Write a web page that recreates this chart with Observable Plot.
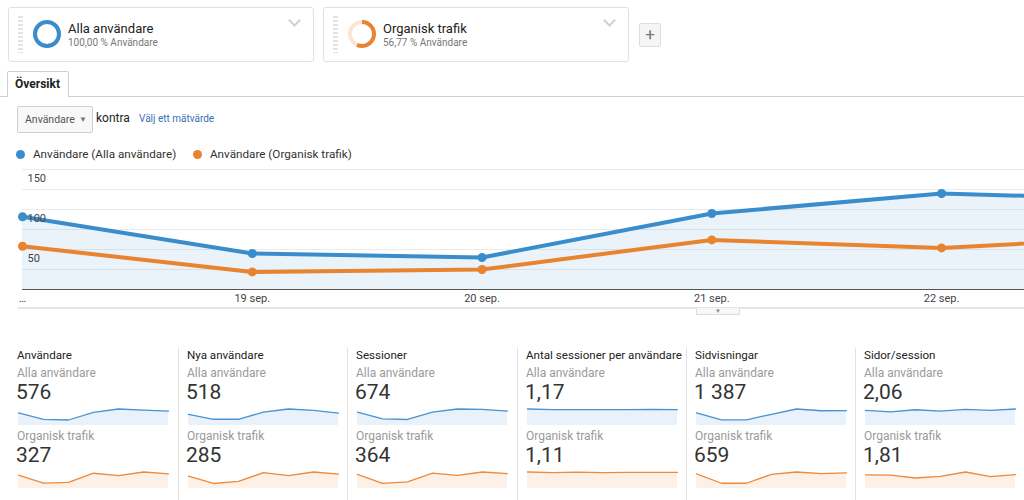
<!DOCTYPE html>
<html><head><meta charset="utf-8">
<script src="https://cdn.jsdelivr.net/npm/d3@7"></script>
<script src="https://cdn.jsdelivr.net/npm/@observablehq/plot@0.6"></script>
<style>
body{margin:0;width:1024px;height:500px;overflow:hidden;background:#fff;font-family:Roboto,"Open Sans",sans-serif;position:relative;color:#222}
.a{position:absolute;white-space:nowrap}
.card{position:absolute;top:7px;height:55px;width:306px;border:1px solid #e0e0e0;border-radius:3px;box-sizing:border-box;background:#fff}
.grip{position:absolute;left:9px;top:8px;width:5px;height:37px;background:repeating-linear-gradient(#e3e3e3 0 2px,transparent 2px 4px)}
.chev{position:absolute;right:14px;top:8px;width:7px;height:7px;border-right:2px solid #d0d0d0;border-bottom:2px solid #d0d0d0;transform:rotate(45deg)}
.ctitle{position:absolute;left:59px;top:13px;font-size:13px;color:#222}
.csub{position:absolute;left:59px;top:29px;font-size:10px;color:#777}
.sep{position:absolute;top:348px;width:1px;height:152px;background:#e2e2e2}
.seg{font-size:12px;color:#9a9a9a}
.num{font-size:21px;color:#333}
</style></head><body>
<div id="root"></div>
<script>
// ---- data ----
const dates = ["2017-09-18","2017-09-19","2017-09-20","2017-09-21","2017-09-22","2017-09-23","2017-09-24"];
const segments = ["Alla användare","Organisk trafik"];
const segmentShare = [100.00, 56.77];
const segmentShareLabels = ["100,00 % Användare","56,77 % Användare"];
const legendLabels = ["Användare (Alla användare)","Användare (Organisk trafik)"];
const mainAll = [91, 45, 40, 95, 120, 112, 105];
const mainOrg = [54, 22, 25, 62, 52, 67, 59];
const yTicks = [50, 100, 150];
const yGrid = [25, 50, 75, 100, 125, 150];
const metrics = ["Användare","Nya användare","Sessioner","Antal sessioner per användare","Sidvisningar","Sidor/session"];
const totalsAll = ["576","518","674","1,17","1 387","2,06"];
const totalsOrg = ["327","285","364","1,11","659","1,81"];
const sparkAll = [
  [91, 45, 40, 95, 120, 112, 105],
  [71, 40, 40, 86, 106, 97, 79],
  [104, 52, 47, 104, 129, 126, 112],
  [1.20, 1.16, 1.15, 1.15, 1.16, 1.18, 1.15],
  [216, 96, 96, 192, 282, 252, 253],
  [2.01, 1.82, 2.10, 1.91, 2.15, 2.01, 2.20]
];
const sparkOrg = [
  [54, 22, 25, 62, 52, 67, 59],
  [42, 17, 24, 54, 44, 56, 49],
  [60, 22, 28, 65, 56, 70, 63],
  [1.14, 1.10, 1.13, 1.10, 1.11, 1.11, 1.11],
  [111, 40, 40, 108, 126, 114, 120],
  [1.85, 1.82, 1.43, 1.66, 2.25, 1.63, 1.90]
];
const colors = ["#3a8dcc", "#e8832f"];
const lightColors = ["#e8f0f9", "#fbe6d6"];

const root = document.getElementById("root");
function el(html){ const d=document.createElement("div"); d.innerHTML=html; const n=d.firstElementChild; root.appendChild(n); return n; }

// ---- segment cards ----
const cardLeft = [8, 323];
segments.forEach((s,i)=>{
  const c = el(`<div class="card" style="left:${cardLeft[i]}px"><div class="grip"></div><div class="chev"></div><div class="ctitle">${s}</div><div class="csub">${segmentShareLabels[i]}</div></div>`);
  const svg = d3.create("svg").attr("width",32).attr("height",32).style("position","absolute").style("left","22px").style("top","10px");
  const g = svg.append("g").attr("transform","translate(16,16)");
  const arc = d3.arc().innerRadius(10).outerRadius(14);
  const frac = segmentShare[i]/100;
  if (frac < 1) g.append("path").attr("d", arc({startAngle: 2*Math.PI*frac, endAngle: 2*Math.PI})).attr("fill", lightColors[i]);
  g.append("path").attr("d", arc({startAngle:0, endAngle:2*Math.PI*frac})).attr("fill", colors[i]);
  c.appendChild(svg.node());
});
el(`<div class="a" style="left:639px;top:23px;width:22px;height:24px;box-sizing:border-box;border:1px solid #ddd;border-radius:2px;background:#f5f5f5;color:#777;font-size:17px;line-height:21px;text-align:center">+</div>`);

// ---- tab ----
el(`<div class="a" style="left:0;top:96px;width:1024px;height:1px;background:#cfcfcf"></div>`);
el(`<div class="a" style="left:7px;top:71px;width:62px;height:26px;box-sizing:border-box;border:1px solid #cfcfcf;border-bottom:none;border-radius:2px 2px 0 0;background:#fff;font-size:12px;font-weight:bold;line-height:24px;padding-left:7px;color:#222">Översikt</div>`);

// ---- dropdown ----
el(`<div class="a" style="left:17px;top:106px;width:76px;height:27px;box-sizing:border-box;border:1px solid #d0d0d0;border-radius:2px;background:#f8f8f8;font-size:10.5px;color:#555;line-height:25px;padding-left:7px">Användare<span style="position:absolute;left:61px;top:0;font-size:8px;color:#777">▼</span></div>`);
el(`<div class="a" style="left:96px;top:111px;font-size:12px;color:#222">kontra</div>`);
el(`<div class="a" style="left:139px;top:113px;font-size:10px;color:#3a6fb5">Välj ett mätvärde</div>`);

// ---- legend ----
const legX = [16, 193];
legendLabels.forEach((l,i)=>{
  el(`<div class="a" style="left:${legX[i]}px;top:150px;width:9px;height:9px;border-radius:50%;background:${colors[i]}"></div>`);
  el(`<div class="a" style="left:${legX[i]+17}px;top:147px;font-size:11.7px;color:#333">${l}</div>`);
});

// ---- main chart ----
const parse = d3.utcParse("%Y-%m-%d");
const main = dates.map((d,i)=>({date: parse(d), all: mainAll[i], org: mainOrg[i]}));
const x0 = parse(dates[0]);
const xEnd = new Date(+parse(dates[4]) + 0.361*864e5);
const chart = Plot.plot({
  width: 1024, height: 160,
  marginLeft: 22, marginRight: 0, marginTop: 9, marginBottom: 31,
  style: {fontFamily: "Roboto, sans-serif", fontSize: "11px", color: "#444", overflow: "visible"},
  x: {type: "utc", domain: [x0, xEnd]},
  y: {domain: [0, 150]},
  marks: [
    Plot.gridY(yGrid, {stroke: "#000", strokeOpacity: 0.08}),
    Plot.areaY(main, {x: "date", y: "all", fill: colors[0], fillOpacity: 0.1, clip: true}),
    Plot.ruleY([0], {stroke: "#555"}),
    Plot.lineY(main, {x: "date", y: "all", stroke: colors[0], strokeWidth: 4, clip: true}),
    Plot.lineY(main, {x: "date", y: "org", stroke: colors[1], strokeWidth: 4, clip: true}),
    Plot.dot(main.slice(0,5), {x: "date", y: "all", r: 4.5, fill: colors[0]}),
    Plot.dot(main.slice(0,5), {x: "date", y: "org", r: 4.5, fill: colors[1]}),
    Plot.axisX(main.slice(0,5).map(d=>d.date), {tickSize: 0, tickPadding: 5, fill: "#444",
      tickFormat: (d,i) => i === 0 ? "…" : `${d.getUTCDate()} sep.`}),
    Plot.axisY(yTicks, {tickSize: 0, tickPadding: -5, textAnchor: "start", dy: 9, fill: "#444", label: null})
  ]
});
chart.style.position = "absolute"; chart.style.left = "0px"; chart.style.top = "160px";
root.appendChild(chart);
el(`<div class="a" style="left:18px;top:307px;width:1006px;height:2px;background:#e3e3e3"></div>`);
el(`<div class="a" style="left:696px;top:308px;width:44px;height:7px;box-sizing:border-box;border:1px solid #ddd;border-top:none;background:#f7f7f7;font-size:6px;color:#888;text-align:center;line-height:5px">▼</div>`);

// ---- scorecards ----
const colX = [17, 187, 356, 526, 695, 864];
function spark(vals, color, fill){
  const data = dates.map((d,i)=>({date: parse(d), v: vals[i]}));
  return Plot.plot({
    width: 152, height: 18, marginLeft: 1, marginRight: 1, marginTop: 1.5, marginBottom: 0,
    x: {type: "utc", axis: null}, y: {domain: [0, d3.max(vals)], axis: null},
    marks: [
      Plot.areaY(data, {x: "date", y: "v", fill: fill}),
      Plot.lineY(data, {x: "date", y: "v", stroke: color, strokeWidth: 1.3})
    ]
  });
}
metrics.forEach((m,i)=>{
  const x = colX[i];
  if (i>0) el(`<div class="sep" style="left:${x-9}px"></div>`);
  el(`<div class="a" style="left:${x}px;top:348px;font-size:11.6px;color:#222">${m}</div>`);
  el(`<div class="a seg" style="left:${x}px;top:366px">${segments[0]}</div>`);
  el(`<div class="a num" style="left:${x-1}px;top:380px">${totalsAll[i]}</div>`);
  const s1 = spark(sparkAll[i], "#4a93d2", "#e9f1fa");
  s1.style.position="absolute"; s1.style.left=(x)+"px"; s1.style.top="407px"; root.appendChild(s1);
  el(`<div class="a seg" style="left:${x}px;top:429px">${segments[1]}</div>`);
  el(`<div class="a num" style="left:${x-1}px;top:443px">${totalsOrg[i]}</div>`);
  const s2 = spark(sparkOrg[i], "#ee8a3c", "#fdf0e7");
  s2.style.position="absolute"; s2.style.left=(x)+"px"; s2.style.top="470px"; root.appendChild(s2);
});
</script>
</body></html>
